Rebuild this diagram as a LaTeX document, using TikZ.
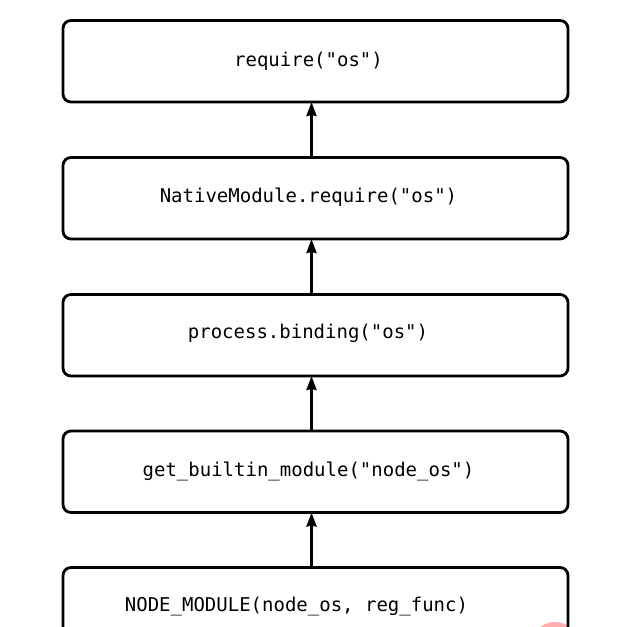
\documentclass[tikz,border=0pt]{standalone}
\usepackage{fontspec}
\setmonofont{DejaVu Sans Mono}
\usetikzlibrary{arrows.meta}
\tikzset{
  box/.style={draw=black, line width=2.8pt, rounded corners=8pt, minimum width=505pt, minimum height=81.5pt, inner sep=0pt, outer sep=0pt, fill=white},
  lbl/.style={font=\ttfamily\fontsize{19}{23}\selectfont, text=black, inner sep=0pt},
  conn/.style={line width=2.8pt, -{Stealth[length=14pt, width=10pt, inset=1pt]}}
}
\begin{document}
\begin{tikzpicture}[x=1pt,y=-1pt]
\useasboundingbox (0,0) rectangle (634,626);
\clip (0,0) rectangle (634,626);
\fill[white] (0,0) rectangle (634,626);
\fill[red!40, opacity=0.8] (555,646) circle (24);
\node[box] (b1) at (315.5,61.25) {};
\node[box] (b2) at (315.5,198.25) {};
\node[box] (b3) at (315.5,335.25) {};
\node[box] (b4) at (315.5,471.75) {};
\node[box, fill=none] (b5) at (315.5,608.25) {};
\node[lbl] (t1) at (308.5,61) {require("os")};
\node[lbl] (t2) at (308.5,197) {NativeModule.require("os")};
\node[lbl] (t3) at (308,333) {process.binding("os")};
\node[lbl] (t4) at (308.5,471) {get\_builtin\_module("node\_os")};
\node[lbl] (t5) at (296.5,607) {NODE\_MODULE(node\_os, reg\_func)};
\draw[conn] (b2.north -| 311.5,0) -- (b1.south -| 311.5,0);
\draw[conn] (b3.north -| 311.5,0) -- (b2.south -| 311.5,0);
\draw[conn] (b4.north -| 311.5,0) -- (b3.south -| 311.5,0);
\draw[conn] (b5.north -| 311.5,0) -- (b4.south -| 311.5,0);
\end{tikzpicture}
\end{document}
